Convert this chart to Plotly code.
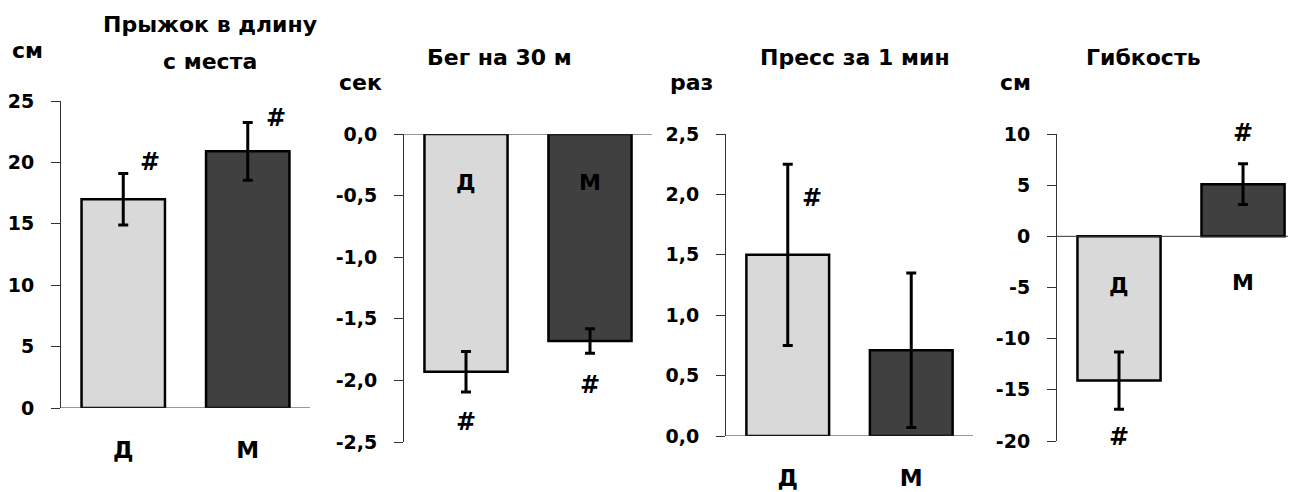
import plotly.graph_objects as go

OFF = 8  # отступ body в странице
W, H = 1296 - OFF, 492 - OFF
FONT = "DejaVu Sans"

groups = ["Д", "М"]
bar_colors = ["#d9d9d9", "#404040"]

# среднее и ошибка по каждому тесту
jump_mean = [17.0, 20.9]
jump_err = [2.1, 2.35]
run_mean = [-1.93, -1.68]
run_err = [0.165, 0.1]
press_mean = [1.5, 0.71]
press_err = [0.75, 0.64]
flex_mean = [-14.1, 5.1]
flex_err = [2.8, 2.0]

titles = [["Прыжок в длину", "с места"], ["Бег на 30 м"], ["Пресс за 1 мин"], ["Гибкость"]]
units = ["см", "сек", "раз", "см"]
jump_ticks = [0, 5, 10, 15, 20, 25]
run_ticks = [0.0, -0.5, -1.0, -1.5, -2.0, -2.5]
press_ticks = [0.0, 0.5, 1.0, 1.5, 2.0, 2.5]
flex_ticks = [10, 5, 0, -5, -10, -15, -20]
ticks = [jump_ticks, run_ticks, press_ticks, flex_ticks]
decimals = [0, 1, 1, 0]
ranges = [[0, 25], [-2.5, 0], [0, 2.5], [-20, 10]]

# пиксельная разметка панелей (в координатах окна): x0, x1, y_top, y_bottom, xrange
boxes = [
    (61, 310, 101, 408, [-0.5, 1.5]),
    (404, 652, 134, 442, [-0.5, 1.5]),
    (726, 973, 134, 436, [-0.5, 1.5]),
    (1057, 1296, 134, 441, [-0.5, 1.427]),
]

data = [(jump_mean, jump_err), (run_mean, run_err),
        (press_mean, press_err), (flex_mean, flex_err)]


def fmt(v, d):
    return f"{v:.{d}f}".replace(".", ",")


def px(x):
    return (x - OFF) / W


def py(y):
    return 1 - (y - OFF) / H


fig = go.Figure()
layout = dict(
    width=W, height=H, margin=dict(l=0, r=0, t=0, b=0),
    paper_bgcolor="white", plot_bgcolor="white", showlegend=False,
    font=dict(family=FONT, size=20, color="black"),
)

for i, ((m, e), (x0, x1, yt, yb, xr)) in enumerate(zip(data, boxes)):
    n = "" if i == 0 else str(i + 1)
    fig.add_trace(go.Bar(
        x=groups, y=m, xaxis="x" + n, yaxis="y" + n,
        marker=dict(color=bar_colors, line=dict(color="black", width=2.5)),
        width=0.67,
        error_y=dict(type="data", array=e, color="black", thickness=3, width=5),
    ))
    show_x = i in (0, 2)
    layout["xaxis" + n] = dict(
        domain=[px(x0), min(px(x1), 1)], anchor="y" + n, range=xr,
        type="category", showline=False, ticks="", automargin=False,
        showticklabels=show_x, ticklabelstandoff=26,
        tickfont=dict(family=FONT, size=23, weight="bold"),
        fixedrange=True,
    )
    layout["yaxis" + n] = dict(
        domain=[py(yb), py(yt)], anchor="x" + n, range=ranges[i],
        tickvals=ticks[i], ticktext=[fmt(v, decimals[i]) for v in ticks[i]],
        showgrid=False, zeroline=False, automargin=False,
        showline=True, linecolor="#333333", linewidth=1,
        ticks="outside", ticklen=9, tickcolor="#333333",
        ticklabelstandoff=13,
        tickfont=dict(family=FONT, size=19, weight="bold"),
        fixedrange=True,
    )
    # горизонтальная ось на уровне нуля
    fig.add_shape(type="line", xref="x" + n + " domain", yref="y" + n,
                  x0=0, x1=1, y0=0, y1=0, line=dict(color="#333333", width=1))

layout["annotations"] = []
ann = layout["annotations"]


def txt(text, x, y, xref, yref, size=22, **kw):
    ann.append(dict(text=text, x=x, y=y, xref=xref, yref=yref, showarrow=False,
                    xanchor="center", yanchor="middle",
                    font=dict(family=FONT, size=size, color="black", weight="bold"), **kw))


# заголовки и единицы
title_pos = [[(210, 24), (210, 62)], [(499, 57)], [(855, 57)], [(1143, 57)]]
unit_pos = [(27, 50), (360, 82), (692, 82), (1015, 82)]
for lines, poss, u, (ux, uy) in zip(titles, title_pos, units, unit_pos):
    for t, (tx, ty) in zip(lines, poss):
        txt(t, px(tx), py(ty), "paper", "paper")
    txt(u, px(ux), py(uy), "paper", "paper")

# значки достоверности
txt("#", "Д", 20.0, "x", "y", size=24, xshift=27)
txt("#", "М", 23.6, "x", "y", size=24, xshift=28)
txt("#", "Д", -2.34, "x2", "y2", size=24)
txt("#", "М", -2.04, "x2", "y2", size=24)
txt("#", "Д", 1.97, "x3", "y3", size=24, xshift=24)
txt("#", "М", 10, "x4", "y4", size=24, yshift=1)
txt("#", "Д", -19.6, "x4", "y4", size=24)

# подписи групп внутри/у столбиков
txt("Д", "Д", -0.39, "x2", "y2", size=22)
txt("М", "М", -0.39, "x2", "y2", size=22)
txt("Д", "Д", -4.8, "x4", "y4", size=22)
txt("М", "М", -4.5, "x4", "y4", size=22)

fig.update_layout(**layout)
fig.write_html("out.html")
